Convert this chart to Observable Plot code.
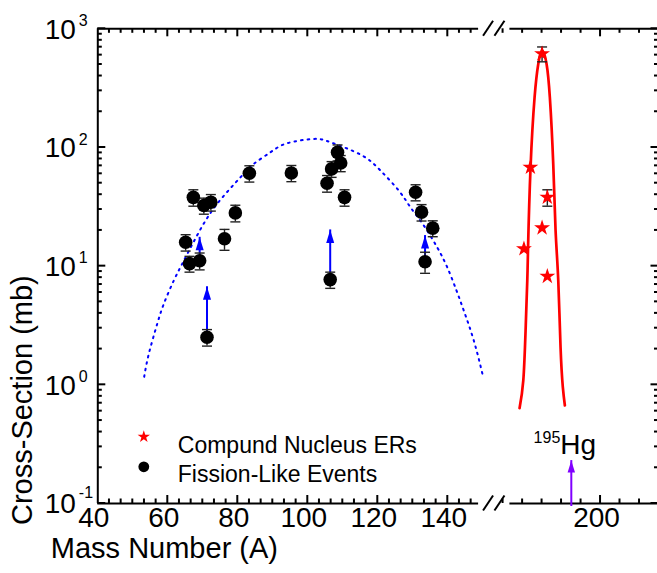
<!DOCTYPE html>
<html><head><meta charset="utf-8">
<script src="https://cdn.jsdelivr.net/npm/d3@7"></script>
<script src="https://cdn.jsdelivr.net/npm/@observablehq/plot@0.6"></script>
<style>body{margin:0;background:#fff}</style>
</head><body><div id="chart"></div>
<script>
// Fission-like events
const fissionA   = [65.1, 66.2, 67.3, 69.1, 70.3, 71.2, 72.3, 76.2, 79.3, 83.3, 95.3, 105.5, 106.4, 106.8, 108.5, 109.4, 110.5, 130.8, 132.5, 133.5, 135.7];
const fissionXS  = [15.9, 10.5, 38, 11.1, 32.4, 2.52, 34.6, 17, 28.1, 60.6, 61, 50, 7.7, 66, 91, 74, 38, 42, 28.5, 10.9, 20.9];
const fissionErr = [2.5, 1.6, 6, 1.8, 5, 0.4, 5.5, 3.4, 4.5, 9.5, 9.5, 8, 1.2, 10, 14, 11.5, 6, 6.5, 4.5, 2.2, 3.2];
// Compound nucleus evaporation residues
const erA   = [186.9, 188.0, 190.0, 190.0, 190.9, 190.9];
const erXS  = [14, 68, 615, 21, 38, 8.2];
const erErr = [0, 0, 88, 0, 6, 0];
// Fitted curves
const fitFissionA  = [53.26, 54.57, 56.97, 58.86, 61.71, 64.57, 68.86, 74.11, 80.77, 84.57, 89.34, 94.11, 101.71, 106.49, 115.06, 120.77, 126.0, 129.34, 133.14, 136.97, 139.83, 142.49, 144.57, 147.43, 150.0];
const fitFissionXS = [1.17, 1.82, 3.26, 4.81, 7.56, 11.1, 19.3, 33.5, 56.1, 72.8, 91.2, 108.5, 118, 110.6, 87.1, 63.9, 43.3, 31.3, 22.0, 14.4, 9.8, 6.23, 4.22, 2.36, 1.2];
const fitErA  = [186.15, 186.79, 187.18, 187.47, 187.6, 188.03, 188.72, 189.35, 190.03, 190.77, 191.33, 191.91, 192.31, 192.77, 193.16, 193.55, 193.9];
const fitErXS = [0.635, 1.09, 2.87, 7.57, 14.1, 68, 265, 506, 655, 506, 265, 72.8, 20, 7.57, 2.07, 0.955, 0.67];
// Lower-limit arrows
const limitA    = [69.1, 71.2, 106.4, 133.5];
const limitFrom = [11.1, 2.52, 7.7, 10.9];
const limitTo   = [17.5, 6.7, 20.2, 18.1];
// Compound nucleus marker
const cnA = [195];
const cnFrom = [0.106];
const cnTo = [0.23];
// Ticks
const yMajor = [0.1, 1, 10, 100, 1000];
const yExp = ["-1", "0", "1", "2", "3"];
const yMinor = [0.1, 1, 10, 100].flatMap(d => [2,3,4,5,6,7,8,9].map(k => k * d));
const xLabels = [40, 60, 80, 100, 120, 140, 200];
const xMajor = [60, 80, 100, 120, 140, 200];
const xMinor = [43.33, 46.67, 50, 53.33, 56.67, 63.33, 66.67, 70, 73.33, 76.67, 83.33, 86.67, 90, 93.33, 96.67,
                103.33, 106.67, 110, 113.33, 116.67, 123.33, 126.67, 130, 133.33, 136.67, 143.33, 146.67,
                183.33, 186.67, 190, 193.33, 196.67, 203.33, 206.67];

const fission = fissionA.map((a, i) => ({a, s: fissionXS[i], e: fissionErr[i]}));
const ers = erA.map((a, i) => ({a, s: erXS[i], e: erErr[i]}));
const ersErr = ers.filter(d => d.e > 0);
const fitF = fitFissionA.map((a, i) => ({a, s: fitFissionXS[i]}));
const fitE = fitErA.map((a, i) => ({a, s: fitErXS[i]}));
const limits = limitA.map((a, i) => ({a, y1: limitFrom[i], y2: limitTo[i]}));
const cn = cnA.map((a, i) => ({a, y1: cnFrom[i], y2: cnTo[i]}));
const yTicks = yMajor.map((v, i) => ({v, exp: yExp[i]}));

const capSymbol = {draw(ctx, size) { const w = Math.sqrt(size / Math.PI); ctx.moveTo(-w, 0); ctx.lineTo(w, 0); }};
const headSymbol = {draw(ctx, size) { const s = Math.sqrt(size / Math.PI); ctx.moveTo(0, 0); ctx.lineTo(-0.62 * s, 2 * s); ctx.lineTo(0.62 * s, 2 * s); ctx.closePath(); }};

const xLo = 40, xHi = 210, yLo = 0.1, yHi = 1000;
const xDomain = [40, 150, 182, 210], xRange = [97.3, 482.3, 494.8, 658.5];
const yRange = [503, 28.3];
const majorLen = 8, minorLen = 4.5, tickW = 2;
const breakLeft = 148.8, breakRight = 184.5;
const font = "Liberation Sans, Arial, sans-serif";

// axis break slashes
function breakMarks(index, scales) {
  const g = d3.create("svg:g").attr("stroke", "black").attr("stroke-width", 2).attr("fill", "none");
  const xc = (scales.x(breakLeft) + scales.x(breakRight)) / 2;
  for (const y of [scales.y(yLo), scales.y(yHi)]) {
    for (const off of [-5.7, 5.7]) {
      g.append("line").attr("x1", xc + off - 5).attr("y1", y + 7.5).attr("x2", xc + off + 5).attr("y2", y - 7.5);
    }
  }
  return g.node();
}
// inward ticks on all four sides
function tickMarks(index, scales) {
  const g = d3.create("svg:g").attr("stroke", "black").attr("stroke-width", tickW);
  const xL = scales.x(xLo), xR = scales.x(xHi), yB = scales.y(yLo), yT = scales.y(yHi);
  for (const [v, len] of [...yMajor.map(v => [v, majorLen]), ...yMinor.map(v => [v, minorLen])]) {
    const y = scales.y(v);
    g.append("line").attr("x1", xL).attr("x2", xL + len).attr("y1", y).attr("y2", y);
    g.append("line").attr("x1", xR).attr("x2", xR - len).attr("y1", y).attr("y2", y);
  }
  for (const [v, len] of [...xMajor.map(v => [v, majorLen]), ...xMinor.map(v => [v, minorLen])]) {
    const x = scales.x(v);
    g.append("line").attr("x1", x).attr("x2", x).attr("y1", yB).attr("y2", yB - len);
    g.append("line").attr("x1", x).attr("x2", x).attr("y1", yT).attr("y2", yT + len);
  }
  return g.node();
}
// rotated y-axis title
function yTitle(index, scales) {
  const yB = scales.y(yLo);
  return d3.create("svg:text")
    .attr("transform", `translate(32,${yB + 22}) rotate(-90)`)
    .attr("text-anchor", "start")
    .attr("font-size", 29)
    .attr("font-family", font)
    .attr("fill", "black")
    .text("Cross-Section (mb)").node();
}

const plot = Plot.plot({
  width: 657, height: 573,
  marginLeft: 97.3, marginRight: -1.5, marginTop: 28.3, marginBottom: 70,
  style: {fontFamily: font, background: "white", color: "black"},
  x: {type: "linear", domain: xDomain, range: xRange, axis: null},
  y: {type: "log", domain: [yLo, yHi], range: yRange, axis: null},
  marks: [
    // frame
    Plot.ruleX([xLo, xHi], {strokeWidth: 2}),
    Plot.ruleY([yLo, yHi], {x1: xLo, x2: breakLeft, strokeWidth: 2}),
    Plot.ruleY([yLo, yHi], {x1: breakRight, x2: xHi, strokeWidth: 2}),
    breakMarks,
    tickMarks,
    // tick labels
    Plot.text(yTicks, {y: "v", frameAnchor: "left", text: () => "10", textAnchor: "end", dx: -22, dy: 1, fontSize: 28}),
    Plot.text(yTicks, {filter: d => d.v !== yLo, y: "v", frameAnchor: "left", text: "exp", textAnchor: "start", dx: -19, dy: -8, fontSize: 16}),
    Plot.text(yTicks, {filter: d => d.v === yLo, y: "v", frameAnchor: "left", text: "exp", textAnchor: "start", dx: -19, dy: -10.5, fontSize: 16}),
    Plot.text(xLabels, {x: d => d, frameAnchor: "bottom", text: d => String(d), dx: -4, dy: 23, fontSize: 28}),
    // axis titles
    Plot.text(["Mass Number (A)"], {frameAnchor: "bottom-left", textAnchor: "start", dx: -47, dy: 54, fontSize: 29}),
    yTitle,
    // fitted curves
    Plot.line(fitF, {x: "a", y: "s", curve: "natural", stroke: "#0000ff", strokeWidth: 2, strokeDasharray: "1.6,5"}),
    Plot.line(fitE, {x: "a", y: "s", curve: "natural", stroke: "#ff0000", strokeWidth: 2.7}),
    // lower-limit arrows
    Plot.ruleX(limits, {x: "a", y1: "y1", y2: "y2", stroke: "#0000ff", strokeWidth: 2, insetTop: 6}),
    Plot.dot(limits, {x: "a", y: "y2", symbol: headSymbol, r: 6.5, fill: "#0000ff", stroke: "none"}),
    Plot.ruleX(cn, {x: "a", y1: "y1", y2: "y2", stroke: "#8000ff", strokeWidth: 2, insetTop: 6}),
    Plot.dot(cn, {x: "a", y: "y2", symbol: headSymbol, r: 6, fill: "#8000ff", stroke: "none"}),
    // error bars
    Plot.ruleX(fission, {x: "a", y1: d => d.s - d.e, y2: d => d.s + d.e, stroke: "#222", strokeWidth: 1.4}),
    Plot.dot(fission, {x: "a", y: d => d.s - d.e, symbol: capSymbol, r: 5, stroke: "#222", strokeWidth: 1.4}),
    Plot.dot(fission, {x: "a", y: d => d.s + d.e, symbol: capSymbol, r: 5, stroke: "#222", strokeWidth: 1.4}),
    Plot.ruleX(ersErr, {x: "a", y1: d => d.s - d.e, y2: d => d.s + d.e, stroke: "#222", strokeWidth: 1.4}),
    Plot.dot(ersErr, {x: "a", y: d => d.s - d.e, symbol: capSymbol, r: 5, stroke: "#222", strokeWidth: 1.4}),
    Plot.dot(ersErr, {x: "a", y: d => d.s + d.e, symbol: capSymbol, r: 5, stroke: "#222", strokeWidth: 1.4}),
    // data points
    Plot.dot(fission, {x: "a", y: "s", r: 6.8, fill: "black", stroke: "none"}),
    Plot.dot(ers, {x: "a", y: "s", symbol: "star", r: 5, fill: "#ff0000", stroke: "none"}),
    // 195Hg label
    Plot.text(cn, {x: "a", y: "y2", text: () => "Hg", textAnchor: "start", dx: -11, dy: -16, fontSize: 28}),
    Plot.text(cn, {x: "a", y: "y2", text: () => "195", textAnchor: "end", dx: -11, dy: -23, fontSize: 16}),
    // legend
    Plot.dot([0], {frameAnchor: "top-left", dx: 46, dy: 408, symbol: "star", r: 3.9, fill: "#ff0000", stroke: "none"}),
    Plot.dot([0], {frameAnchor: "top-left", dx: 46, dy: 438, r: 5.4, fill: "black", stroke: "none"}),
    Plot.text(["Compund Nucleus ERs"], {frameAnchor: "top-left", dx: 80, dy: 408, textAnchor: "start", fontSize: 23}),
    Plot.text(["Fission-Like Events"], {frameAnchor: "top-left", dx: 80, dy: 437, textAnchor: "start", fontSize: 23})
  ]
});
document.getElementById("chart").appendChild(plot);
</script>
</body></html>
